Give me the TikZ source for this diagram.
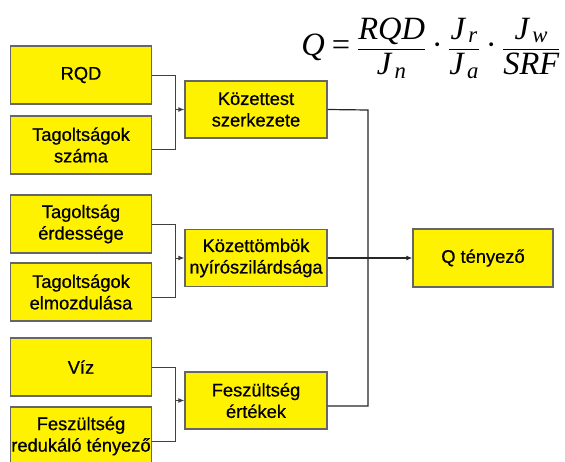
\documentclass[tikz,border=0pt]{standalone}
\usepackage{fontspec}
\usepackage{amsmath}
\setmainfont{Liberation Sans}
\newfontfamily\tnr{Liberation Serif}
\usetikzlibrary{arrows.meta}
\newcommand\ti[1]{\text{\tnr\itshape #1}}
\newcommand\tup[1]{\text{\tnr #1}}
\begin{document}
\begin{tikzpicture}[x=1pt,y=-1pt,
  box/.style={draw=black!60, line width=1.3pt, fill=yellow, align=center,
    inner sep=0pt, minimum width=141pt, minimum height=58pt,
    font=\addfontfeature{FakeBold=0.6}\fontsize{18.3}{21.5}\selectfont},
  midbox/.style={box, minimum width=142pt, minimum height=57pt},
  conn/.style={draw=black!75, line width=1pt},
  outl/.style={draw=black!85, line width=1.2pt},
  arr/.style={-{Latex[length=6pt,width=5pt]}}]
\useasboundingbox (0,0) rectangle (565,461);
\clip (0,0) rectangle (565,461);
% formula
\node[inner sep=0pt, font=\fontsize{32.5}{38}\selectfont, anchor=center] (f) at (431,48)
  {$\displaystyle \ti{Q} \mathrel{\tup{=}} \frac{\ti{RQD}}{\ti{J}_{\,\ti{n}}}\mathbin{\tup{·}}\frac{\ti{J}_{\,\ti{r}}}{\ti{J}_{\,\ti{a}}}\mathbin{\tup{·}}\frac{\ti{J}_{\,\ti{w}}}{\ti{SRF}}$};
% left boxes
\node[box] (rqd) at (81,75) {RQD};
\node[box] (sz)  at (81,145) {Tagoltságok\\száma};
\node[box] (erd) at (81,224) {Tagoltság\\érdessége};
\node[box] (elm) at (81,292) {Tagoltságok\\elmozdulása};
\node[box] (viz) at (81,367) {Víz};
\node[box] (fr)  at (81,436) {Feszültség\\redukáló tényező};
% middle boxes
\node[midbox] (kt) at (256,109.5) {Közettest\\szerkezete};
\node[midbox] (kb) at (256,258) {Közettömbök\\nyírószilárdsága};
\node[midbox] (fe) at (256,400.5) {Feszültség\\értékek};
% result
\node[box, minimum width=140pt] (q) at (483,258) {Q tényező};
% junctions
\coordinate (j1) at (175,109.5);
\coordinate (j2) at (175,258);
\coordinate (j3) at (175,400.5);
\coordinate (jr) at (368,110);
\coordinate (szo) at ([yshift=-4pt]sz.east);
\coordinate (elmo) at ([yshift=-5pt]elm.east);
\coordinate (fro) at ([yshift=-5pt]fr.east);
\coordinate (feo) at ([yshift=-5.5pt]fe.east);
\draw[conn] (rqd.east) -| (j1);
\draw[conn] (szo) -| (j1);
\draw[conn,arr] (j1) -- (kt.west);
\draw[conn] (erd.east) -| (j2);
\draw[conn] (elmo) -| (j2);
\draw[conn,arr] (j2) -- (kb.west);
\draw[conn] (viz.east) -| (j3);
\draw[conn] (fro) -| (j3);
\draw[conn,arr] (j3) -- (fe.west);
\draw[outl] (kt.east) -- (jr) |- (feo);
\draw[outl,arr] (kb.east) -- (q.west);
\end{tikzpicture}
\end{document}
